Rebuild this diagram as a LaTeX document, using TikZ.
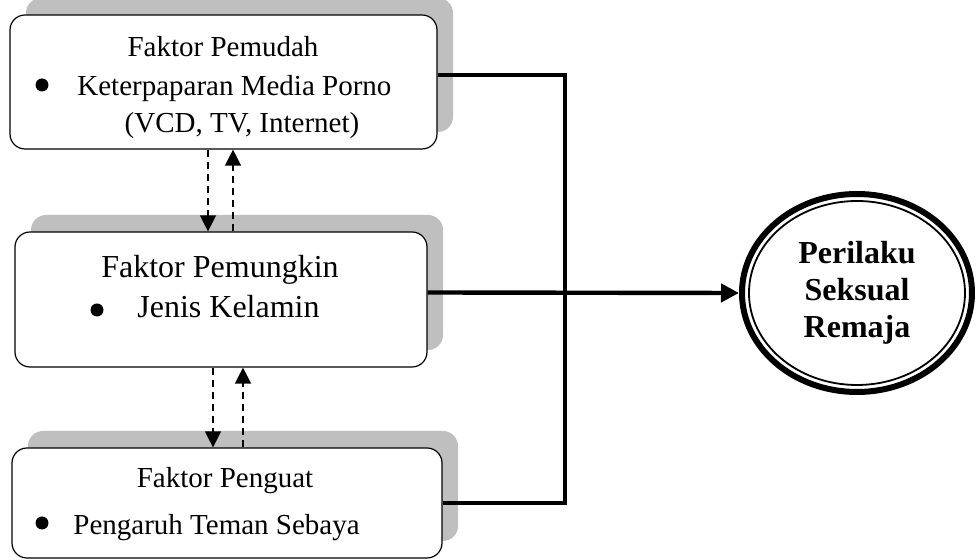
\documentclass[tikz,border=0pt]{standalone}
\usepackage{fontspec}
\setmainfont{Liberation Serif}
\usetikzlibrary{arrows.meta,shapes.geometric,shadows}

\begin{document}
\begin{tikzpicture}[line cap=round,line join=round,x=0.5pt,y=-0.5pt,
  faktor/.style={draw,line width=0.6pt,rounded corners=7.5pt,fill=white,inner sep=0pt,
    drop shadow={shadow xshift=8pt,shadow yshift=8.5pt,fill=black!25,opacity=1}},
  teks/.style={anchor=base,inner sep=0pt,font=\fontsize{14.5}{17}\selectfont},
  teksb/.style={anchor=base,inner sep=0pt,font=\fontsize{16}{19}\selectfont},
  dot/.style={circle,fill,inner sep=0pt,minimum size=6.5pt},
  bus/.style={line width=2.2pt,line join=miter,line cap=butt},
  pengaruh/.style={line width=0.7pt,dash pattern=on 3.5pt off 2.5pt,line cap=butt,
    -{Triangle[length=8pt,width=8pt]}}]
\useasboundingbox (0,0) rectangle (976,560);
% boxes
\node[faktor,minimum width=213.5pt,minimum height=67pt] (pemudah) at (223.5,82) {};
\node[faktor,minimum width=206pt,minimum height=67.5pt] (pemungkin) at (221,299.5) {};
\node[faktor,minimum width=215pt,minimum height=55pt] (penguat) at (227,503) {};
% texts
\node[teks] (judul1) at (223,57) {Faktor Pemudah};
\node[dot] (dot1) at (42,85) {};
\node[teks,anchor=base west] (isi1) at (77,96) {Keterpaparan Media Porno};
\node[teks] (isi1b) at (242,133) {(VCD, TV, Internet)};
\node[teksb] (judul2) at (220,278) {Faktor Pemungkin};
\node[dot] (dot2) at (97,310) {};
\node[teksb,anchor=base west] (isi2) at (137,318) {Jenis Kelamin};
\node[teks] (judul3) at (225,488) {Faktor Penguat};
\node[dot] (dot3) at (42,523) {};
\node[teks,anchor=base west] (isi3) at (73,535) {Pengaruh Teman Sebaya};
% outcome
\node[ellipse,draw,line width=3pt,minimum width=115pt,minimum height=99pt,inner sep=0pt,
  align=center,font=\fontsize{16}{18.5}\selectfont\bfseries] (perilaku) at (857,293)
  {Perilaku\\Seksual\\Remaja};
\draw[line width=0.9pt] (perilaku.center) ellipse [x radius=54pt,y radius=46pt];
% connectors
\coordinate (bustop) at (565,75);
\coordinate (busbot) at (565,503);
\draw[bus] ([yshift=3.5pt]pemudah.east) -- (bustop) -- (busbot) -- (penguat.east);
\draw[bus,-{Triangle[length=9pt,width=9pt]}] ([yshift=3.5pt]pemungkin.east) -- (perilaku.west);
\draw[pengaruh] ([xshift=-7.75pt]pemudah.south) -- ([xshift=-7.75pt]pemudah.south |- pemungkin.north);
\draw[pengaruh] ([xshift=4.75pt]pemudah.south |- pemungkin.north) -- ([xshift=4.75pt]pemudah.south);
\draw[pengaruh] ([xshift=-4pt]pemungkin.south) -- ([xshift=-4pt]pemungkin.south |- penguat.north);
\draw[pengaruh] ([xshift=11pt]pemungkin.south |- penguat.north) -- ([xshift=11pt]pemungkin.south);
\end{tikzpicture}
\end{document}
